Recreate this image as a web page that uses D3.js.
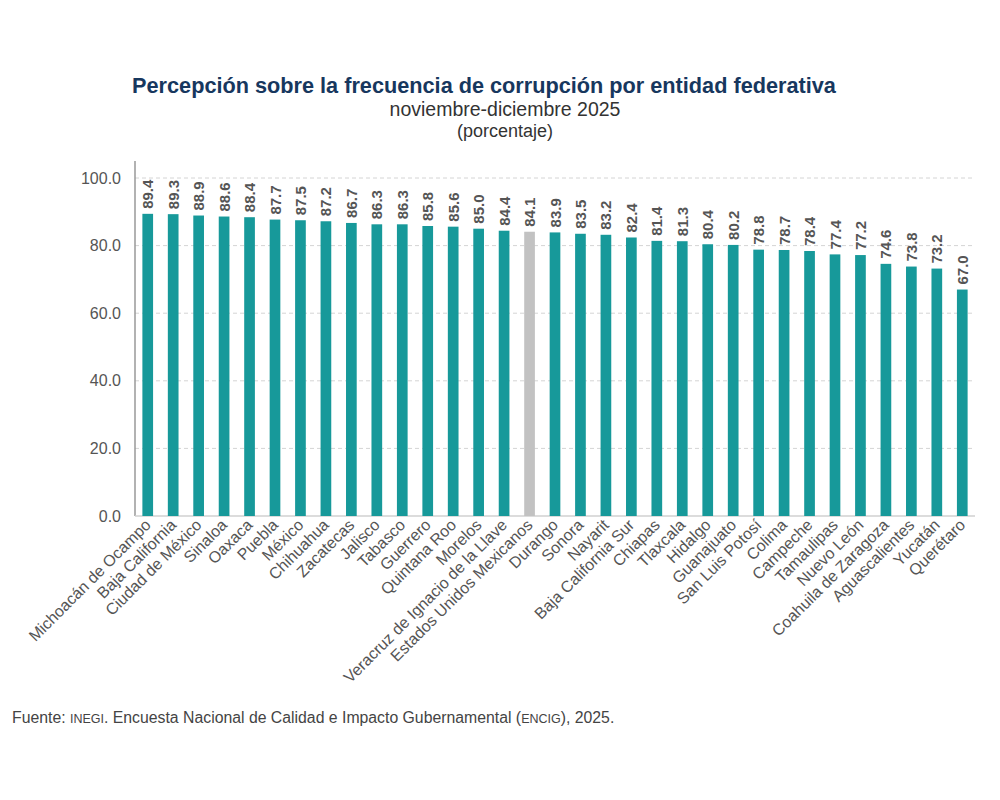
<!DOCTYPE html>
<html>
<head>
<meta charset="utf-8">
<script src="https://cdn.jsdelivr.net/npm/d3@7"></script>
<style>
  body { margin: 0; background: #fff; }
  svg { font-family: "Liberation Sans", Arial, sans-serif; }
</style>
</head>
<body>
<div id="chart"></div>
<script>
// datos
var entidades = ["Michoacán de Ocampo", "Baja California", "Ciudad de México", "Sinaloa", "Oaxaca",
  "Puebla", "México", "Chihuahua", "Zacatecas", "Jalisco", "Tabasco", "Guerrero", "Quintana Roo",
  "Morelos", "Veracruz de Ignacio de la Llave", "Estados Unidos Mexicanos", "Durango", "Sonora",
  "Nayarit", "Baja California Sur", "Chiapas", "Tlaxcala", "Hidalgo", "Guanajuato", "San Luis Potosí",
  "Colima", "Campeche", "Tamaulipas", "Nuevo León", "Coahuila de Zaragoza", "Aguascalientes",
  "Yucatán", "Querétaro"];
var porcentajes = [89.4, 89.3, 88.9, 88.6, 88.4, 87.7, 87.5, 87.2, 86.7, 86.3, 86.3, 85.8, 85.6,
  85.0, 84.4, 84.1, 83.9, 83.5, 83.2, 82.4, 81.4, 81.3, 80.4, 80.2, 78.8, 78.7, 78.4, 77.4, 77.2,
  74.6, 73.8, 73.2, 67.0];
var yTicks = [0, 20, 40, 60, 80, 100];
var nacional = "Estados Unidos Mexicanos";

var data = entidades.map(function(d, i) { return {nombre: d, valor: porcentajes[i]}; });

var W = 1000, H = 800;
var svg = d3.select("#chart").append("svg").attr("width", W).attr("height", H);

var x = d3.scaleBand().domain(entidades).range([135, 975]).paddingInner(0.58).paddingOuter(0.29);
var y = d3.scaleLinear().domain([0, 100]).range([516, 178]);

// titulos
svg.append("text").attr("x", 484).attr("y", 93).attr("text-anchor", "middle")
  .attr("font-size", 21.7).attr("font-weight", "bold").attr("fill", "#17375e")
  .text("Percepción sobre la frecuencia de corrupción por entidad federativa");
svg.append("text").attr("x", 505).attr("y", 116).attr("text-anchor", "middle")
  .attr("font-size", 19.5).attr("fill", "#333").text("noviembre-diciembre 2025");
svg.append("text").attr("x", 505).attr("y", 137).attr("text-anchor", "middle")
  .attr("font-size", 18).attr("fill", "#333").text("(porcentaje)");

// grid
svg.append("g").selectAll("line").data(yTicks.filter(function(d) { return d > 0; }))
  .enter().append("line")
  .attr("x1", 135).attr("x2", 975)
  .attr("y1", function(d) { return y(d); }).attr("y2", function(d) { return y(d); })
  .attr("stroke", "#d4d4d4").attr("stroke-dasharray", "4,3");

// eje y
var yAxis = svg.append("g").attr("transform", "translate(135,0)")
  .call(d3.axisLeft(y).tickValues(yTicks).tickSize(0).tickPadding(14).tickFormat(d3.format(".1f")));
yAxis.select(".domain").remove();
yAxis.selectAll("text").attr("font-size", 16).attr("fill", "#555")
  .attr("font-family", "'Liberation Sans', Arial, sans-serif");
svg.append("line").attr("x1", 135).attr("x2", 135).attr("y1", 161).attr("y2", 516)
  .attr("stroke", "#999").attr("stroke-width", 1.5);
svg.append("line").attr("x1", 135).attr("x2", 975).attr("y1", 516).attr("y2", 516)
  .attr("stroke", "#d0d0d0").attr("stroke-width", 1.5);

// barras
svg.append("g").selectAll("rect").data(data).enter().append("rect")
  .attr("x", function(d) { return x(d.nombre); })
  .attr("y", function(d) { return y(d.valor); })
  .attr("width", x.bandwidth())
  .attr("height", function(d) { return y(0) - y(d.valor); })
  .attr("fill", function(d) { return d.nombre == nacional ? "#c2c2c2" : "#17999a"; });

// etiquetas de valor
svg.append("g").selectAll("text").data(data).enter().append("text")
  .attr("transform", function(d) {
    return "translate(" + (x(d.nombre) + x.bandwidth() / 2 + 5.5) + "," + (y(d.valor) - 5) + ") rotate(-90)";
  })
  .attr("font-size", 15).attr("font-weight", "bold").attr("fill", "#555")
  .text(function(d) { return d.valor.toFixed(1); });

// etiquetas de categoria
svg.append("g").selectAll("text").data(data).enter().append("text")
  .attr("transform", function(d) {
    return "translate(" + (x(d.nombre) + x.bandwidth() / 2 + 4) + ",526) rotate(-45)";
  })
  .attr("text-anchor", "end").attr("font-size", 16).attr("fill", "#555")
  .text(function(d) { return d.nombre; });

// fuente
var f = svg.append("text").attr("x", 12).attr("y", 723).attr("font-size", 15.8).attr("fill", "#444");
f.append("tspan").text("Fuente: ");
f.append("tspan").attr("font-size", 12.5).text("INEGI");
f.append("tspan").text(". Encuesta Nacional de Calidad e Impacto Gubernamental (");
f.append("tspan").attr("font-size", 12.5).text("ENCIG");
f.append("tspan").text("), 2025.");
</script>
</body>
</html>
